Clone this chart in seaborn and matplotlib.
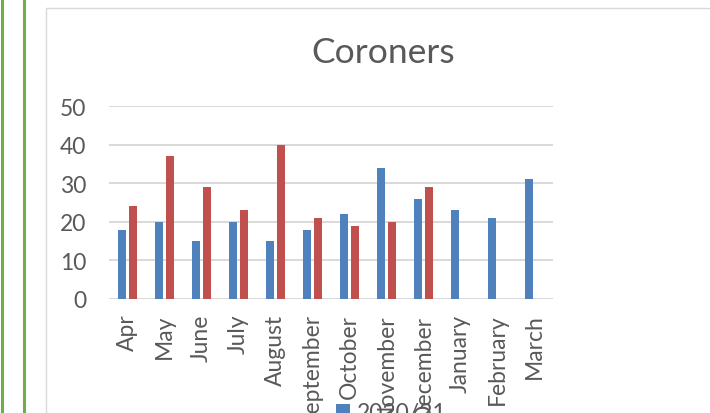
import matplotlib
matplotlib.use("Agg")
import matplotlib.pyplot as plt
from matplotlib.lines import Line2D
import pandas as pd
import seaborn as sns

months = ["Apr", "May", "June", "July", "August", "September", "October",
          "November", "December", "January", "February", "March"]
years = ["2020/21", "2021/22"]
counts_2020_21 = [18, 20, 15, 20, 15, 18, 22, 34, 26, 23, 21, 31]
counts_2021_22 = [24, 37, 29, 23, 40, 21, 19, 20, 29, None, None, None]
colors = ["#4F81BD", "#C0504D"]

rows = []
for year, values in zip(years, [counts_2020_21, counts_2021_22]):
    for m, v in zip(months, values):
        if v is not None:
            rows.append({"Month": m, "Year": year, "Count": v})
df = pd.DataFrame(rows)

sns.set_style("white")
plt.rcParams["font.family"] = ["Lato", "DejaVu Sans"]
text_color = "#595959"
grid_color = "#D9D9D9"

W, H = 710, 414
fig = plt.figure(figsize=(W / 100, H / 100), dpi=100)

# page decoration: green rules on the left and the light chart-area frame
for x in (2, 24):
    fig.add_artist(Line2D([x / W, x / W], [0, 1], transform=fig.transFigure,
                          color="#70AD47", lw=2.2))
fig.add_artist(Line2D([45.5 / W, 45.5 / W, 1], [0, 1 - 8.5 / H, 1 - 8.5 / H],
                      transform=fig.transFigure, color=grid_color, lw=1.0))

ax = fig.add_axes([109 / W, 114 / H, 444 / W, 193 / H])
sns.barplot(data=df, x="Month", y="Count", hue="Year", order=months,
            hue_order=years, palette=colors, saturation=1, width=0.58, gap=0.22,
            errorbar=None, linewidth=0, ax=ax)

handles, labels = ax.get_legend_handles_labels()
ax.get_legend().remove()

ax.set_xlim(-0.5, len(months) - 0.5)
ax.set_ylim(0, 50)
ax.set_yticks(range(0, 51, 10))
ax.grid(axis="y", color=grid_color, lw=1.4)
ax.set_axisbelow(True)
for s in ax.spines.values():
    s.set_visible(False)
ax.set_xlabel("")
ax.set_ylabel("")
ax.tick_params(axis="y", length=0, pad=16.5, labelsize=16.5, labelcolor=text_color)
ax.tick_params(axis="x", length=0, pad=10.5, labelsize=16.5, labelcolor=text_color,
               labelrotation=90)

fig.suptitle("Coroners", x=383 / W, y=1 - 53 / H, va="center", ha="center",
             fontsize=25.5, color=text_color)

fig.legend(handles, labels, loc="upper left", bbox_to_anchor=(336 / W, 1 - 403 / H),
           frameon=False, fontsize=16.5, labelcolor=text_color, ncol=1,
           handlelength=0.6, handleheight=0.6, handletextpad=0.3,
           borderpad=0, borderaxespad=0)

fig.savefig("out.png", dpi=100)
